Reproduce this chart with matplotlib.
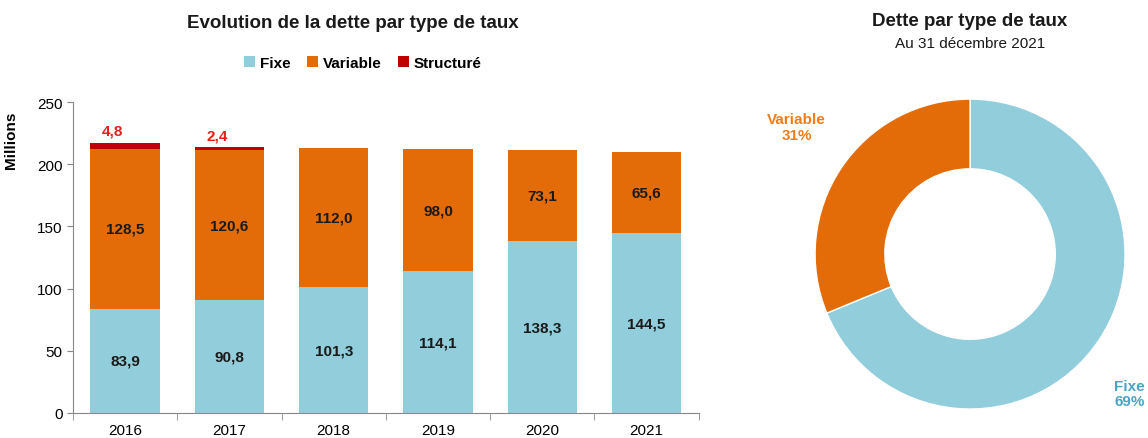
import matplotlib.pyplot as plt
import numpy as np

plt.rcParams['font.family'] = ['Liberation Sans', 'DejaVu Sans']

annees = ['2016', '2017', '2018', '2019', '2020', '2021']
fixe = [83.9, 90.8, 101.3, 114.1, 138.3, 144.5]
variable = [128.5, 120.6, 112.0, 98.0, 73.1, 65.6]
structure = [4.8, 2.4, 0, 0, 0, 0]

parts_2021 = [144.5, 65.6]
parts_noms = ['Fixe', 'Variable']

c_fixe = '#92cddc'
c_var = '#e36c09'
c_struct = '#c00000'


def fmt(v):
    return f'{v:.1f}'.replace('.', ',')


fig = plt.figure(figsize=(11.48, 4.39), dpi=100)

# histogramme empile
ax = fig.add_axes([0.0636, 0.057, 0.545, 0.708])
x = np.arange(len(annees))
bas_var = np.array(fixe)
bas_struct = bas_var + np.array(variable)
ax.bar(x, fixe, 0.665, color=c_fixe, label='Fixe')
ax.bar(x, variable, 0.665, bottom=bas_var, color=c_var, label='Variable')
ax.bar(x, structure, 0.665, bottom=bas_struct, color=c_struct, label='Structuré')

for i in range(len(annees)):
    ax.text(x[i], fixe[i] / 2, fmt(fixe[i]),
            ha='center', va='center', fontsize=11, fontweight='bold', color='#1a1a1a')
    ax.text(x[i], bas_var[i] + variable[i] / 2, fmt(variable[i]),
            ha='center', va='center', fontsize=11, fontweight='bold', color='#1a1a1a')
    if structure[i] > 0:
        ax.text(x[i] - 0.12, bas_struct[i] + structure[i] + 4, fmt(structure[i]),
                ha='center', va='bottom', fontsize=11, fontweight='bold', color='#e0201b')

ax.set_xlim(-0.5, len(annees) - 0.5)
ax.set_ylim(0, 250)
ax.set_yticks(range(0, 251, 50))
ax.set_xticks(x)
ax.set_xticklabels(annees)
ax.set_xticks(np.arange(-0.5, len(annees), 1), minor=True)
ax.tick_params(axis='x', which='major', length=0, labelsize=11, pad=7)
ax.tick_params(axis='x', which='minor', length=5, color='#888888')
ax.tick_params(axis='y', length=4, color='#888888', labelsize=11)
for s in ['top', 'right']:
    ax.spines[s].set_visible(False)
for s in ['left', 'bottom']:
    ax.spines[s].set_color('#888888')
ax.set_ylabel('Millions', fontsize=11, fontweight='bold')
ax.yaxis.set_label_coords(-0.088, 0.88)

fig.text(0.307, 0.946, 'Evolution de la dette par type de taux', ha='center', va='center',
         fontsize=13.5, fontweight='bold', color='#1a1a1a')
fig.legend(loc='center', bbox_to_anchor=(0.316, 0.855), ncol=3, frameon=False,
           handlelength=0.7, handleheight=0.7, handletextpad=0.3,
           columnspacing=1.1, prop={'weight': 'bold', 'size': 11})

# anneau
ax2 = fig.add_axes([0.71, 0.066, 0.27, 0.706])
ax2.pie(parts_2021, colors=[c_fixe, c_var], startangle=90, counterclock=False,
        wedgeprops=dict(width=0.45, edgecolor='white', linewidth=1))
ax2.set_xlim(-1, 1)
ax2.set_ylim(-1, 1)
ax2.set_aspect('equal')
total = sum(parts_2021)
pct = [round(v / total * 100) for v in parts_2021]
ax2.text(-1.12, 0.82, f'{parts_noms[1]}\n{pct[1]}%', ha='center', va='center',
         fontsize=11, fontweight='bold', color='#f07d1a', linespacing=1.1)
ax2.text(1.03, -0.90, f'{parts_noms[0]}\n{pct[0]}%', ha='center', va='center',
         fontsize=11, fontweight='bold', color='#4ba3c3', linespacing=1.1)

fig.text(0.845, 0.952, 'Dette par type de taux', ha='center', va='center',
         fontsize=13.5, fontweight='bold', color='#1a1a1a')
fig.text(0.845, 0.9, 'Au 31 décembre 2021', ha='center', va='center',
         fontsize=11, color='#1a1a1a')

fig.savefig('out.png', dpi=100)
